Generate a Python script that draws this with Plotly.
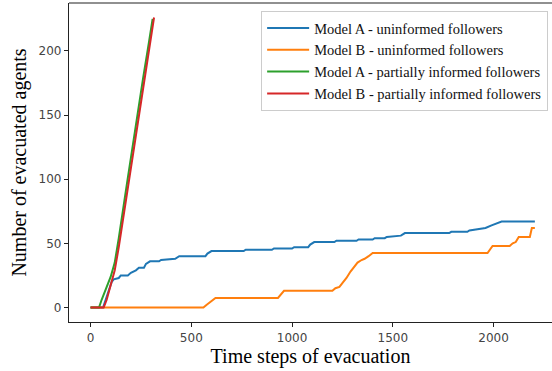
import plotly.graph_objects as go

# Model A - uninformed followers
t_a_unin = [0,62,75,90,105,115,140,150,185,200,225,240,265,275,295,340,350,420,440,570,580,600,760,770,900,910,1000,1010,1080,1090,1110,1210,1220,1320,1330,1400,1410,1460,1470,1540,1560,1780,1790,1870,1880,1920,1960,1990,2020,2040,2205]
y_a_unin = [0,0,6,13,20,22,23,25,25,27,29,31,31,34,36,36,37,38,40,40,42,44,44,45,45,46,46,47,47,49,51,51,52,52,53,53,54,54,55,56,58,58,59,59,60,61,62,64,66,67,67]

# Model B - uninformed followers
t_b_unin = [0,560,575,590,605,620,930,945,960,1200,1215,1235,1250,1270,1290,1305,1325,1345,1360,1380,1400,1970,1980,1995,2080,2095,2110,2125,2180,2185,2190,2205]
y_b_unin = [0,0,2,4,6,7.5,7.5,10,13,13,15,16,19,23,28,31,35,37,38,40,42.5,42.5,45,48,48,50,51,55,55,60,62,62]

# Model A - partially informed followers
t_a_part = [0,42,55,75,100,120,140,180,220,260,290,308]
y_a_part = [0,0,6,14,24,35,54,96,138,178,207,225]

# Model B - partially informed followers
t_b_part = [0,65,80,100,120,140,180,220,260,290,315]
y_b_part = [0,0,6,17,29,47,88,130,172,202,226]

names = ["Model A - uninformed followers", "Model B - uninformed followers",
         "Model A - partially informed followers", "Model B - partially informed followers"]
colors = ["#1f77b4", "#ff7f0e", "#2ca02c", "#d62728"]
series = [(t_a_unin, y_a_unin), (t_b_unin, y_b_unin), (t_a_part, y_a_part), (t_b_part, y_b_part)]

fig = go.Figure()
for (x, y), n, c in zip(series, names, colors):
    fig.add_trace(go.Scatter(x=x, y=y, mode="lines", name=n,
                             line=dict(color=c, width=2)))

serif = "Liberation Serif, Times New Roman, serif"
fig.update_layout(
    width=552, height=371,
    margin=dict(l=69, r=0, t=3, b=49),
    plot_bgcolor="white", paper_bgcolor="white",
    showlegend=True,
    legend=dict(x=0.992, y=0.975, xanchor="right", yanchor="top",
                bgcolor="rgba(255,255,255,0.8)", bordercolor="#cccccc", borderwidth=1,
                font=dict(family=serif, size=14.5, color="#111"),
                itemwidth=42, tracegroupgap=0),
    font=dict(family="DejaVu Sans", size=12, color="#444"),
)
fig.update_xaxes(range=[-107, 2290], tickvals=[0, 500, 1000, 1500, 2000],
                 showgrid=False, zeroline=False,
                 showline=True, linecolor="#222", linewidth=1.2, mirror=False,
                 ticks="outside", ticklen=4, tickcolor="#222",
                 tickfont=dict(family="DejaVu Sans", size=12, color="#444"),
                 title=dict(text="Time steps of evacuation", standoff=2,
                            font=dict(family=serif, size=20, color="#000")))
fig.update_yaxes(range=[-11.3, 237.3], tickvals=[0, 50, 100, 150, 200],
                 showgrid=False, zeroline=False,
                 showline=True, linecolor="#222", linewidth=1.2, mirror=False,
                 ticks="outside", ticklen=4, tickcolor="#222",
                 tickfont=dict(family="DejaVu Sans", size=12, color="#444"),
                 title=dict(text="Number of evacuated agents", standoff=6,
                            font=dict(family=serif, size=20, color="#000")))
# top spine
fig.add_shape(type="line", xref="paper", yref="paper", x0=0, x1=1, y0=1, y1=1,
              line=dict(color="#222", width=1.2))

fig.write_html("out.html")
